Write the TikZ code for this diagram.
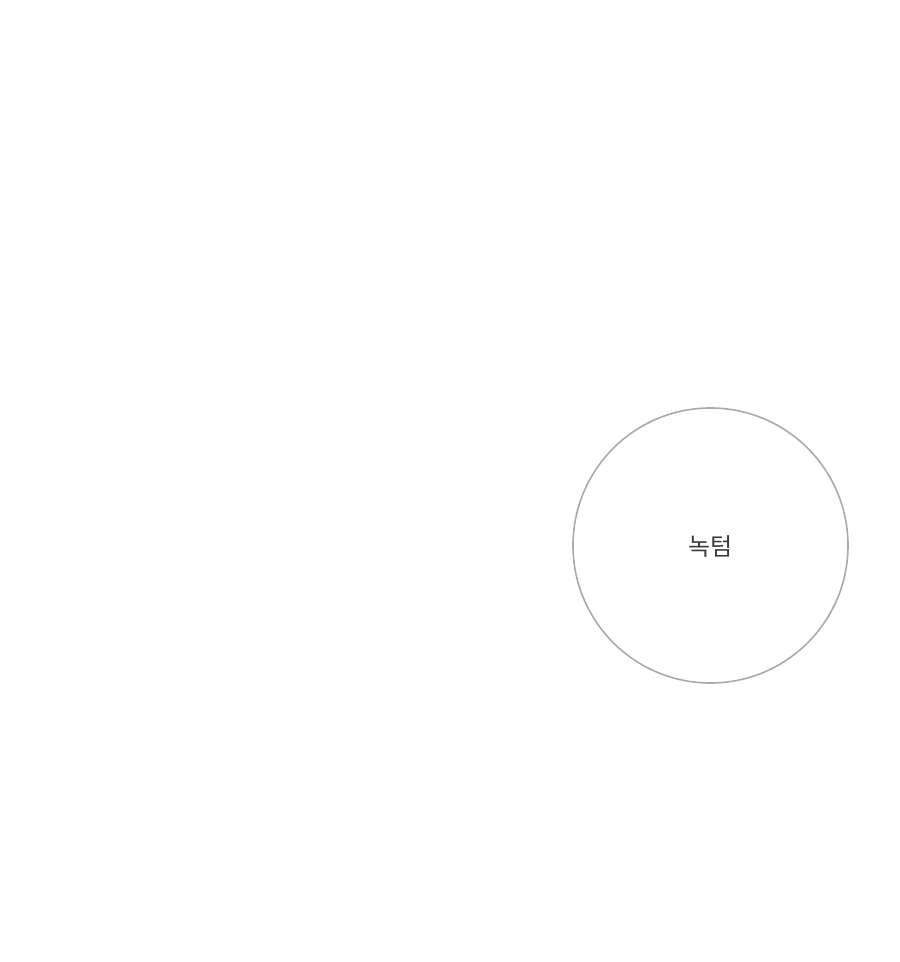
\documentclass[tikz,border=0pt]{standalone}
\usepackage{fontspec}
\newfontfamily\cjk{Noto Sans CJK KR}
\definecolor{ringgray}{HTML}{AAAAAA}
\definecolor{textgray}{HTML}{3A3A3A}
\begin{document}
\begin{tikzpicture}[x=1pt,y=1pt,
  ring/.style={circle, draw=ringgray, line width=1.6pt, minimum size=275pt, inner sep=0pt},
  lbl/.style={font=\cjk\fontsize{24}{28}\selectfont, text=textgray, inner sep=0pt}]
\useasboundingbox (0,0) rectangle (900,962);
\node[ring] (n) at (710.5,416.5) {};
\node[lbl] (t) at ([yshift=-1pt]n.center) {녹텀};
\end{tikzpicture}
\end{document}
